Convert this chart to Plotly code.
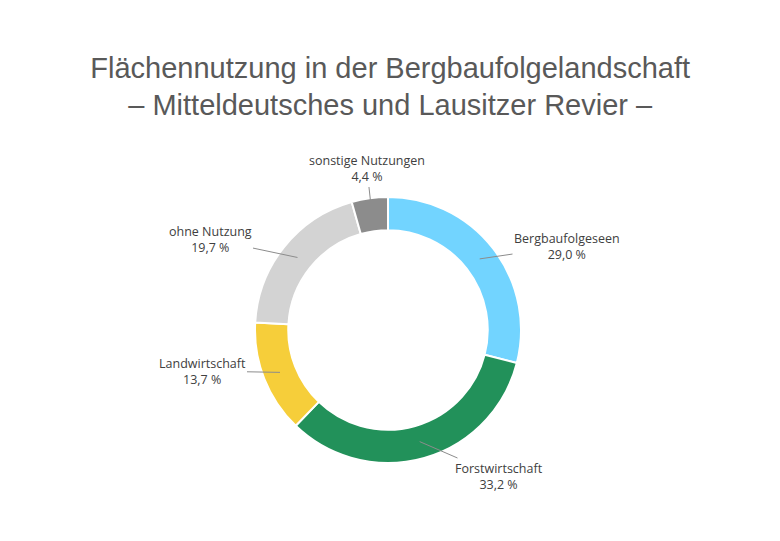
import math
import plotly.graph_objects as go

labels = ["Bergbaufolgeseen", "Forstwirtschaft", "Landwirtschaft", "ohne Nutzung", "sonstige Nutzungen"]
values = [29.0, 33.2, 13.7, 19.7, 4.4]
colors = ["#72D4FF", "#22915A", "#F6CE3A", "#D3D3D3", "#8C8C8C"]
label_pos = [(567, 246), (499, 476), (202, 371), (210, 239), (367, 169)]

W, H = 780, 541
cx, cy, R = 388, 330, 133
sx, sy = 8, 8  # rendering offset correction
fig = go.Figure(go.Pie(
    labels=labels, values=values, sort=False, direction="clockwise", rotation=0,
    hole=0.75, marker=dict(colors=colors, line=dict(color="white", width=2)),
    textinfo="none", hoverinfo="label+percent", showlegend=False,
    domain=dict(x=[(cx - sx - R) / W, (cx - sx + R) / W],
                y=[1 - (cy - sy + R) / H, 1 - (cy - sy - R) / H]),
))

total = sum(values)
cum = 0
ann = []
for lab, v, (lx, ly) in zip(labels, values, label_pos):
    mid = (cum + v / 2) / total * 2 * math.pi
    cum += v
    r = 116
    px, py = cx + r * math.sin(mid), cy - r * math.cos(mid)
    ann.append(dict(x=(px - sx) / W, y=1 - (py - sy) / H, xref="paper", yref="paper",
                    ax=lx - px, ay=ly - py, axref="pixel", ayref="pixel",
                    text=f"{lab}<br>{v:.1f} %".replace(".", ","), showarrow=True,
                    arrowhead=0, arrowwidth=1, arrowcolor="#8C8C8C",
                    font=dict(family="Open Sans", size=12.5, color="#404040"),
                    bgcolor="white", align="center"))

fig.update_layout(
    width=W, height=H, margin=dict(l=0, r=0, t=0, b=0), paper_bgcolor="white",
    title=dict(text="Flächennutzung in der Bergbaufolgelandschaft<br>– Mitteldeutsches und Lausitzer Revier –",
               x=0.49, y=0.871, xanchor="center", yanchor="middle",
               font=dict(family="Liberation Sans", size=29, color="#595959")),
    annotations=ann,
)
fig.write_html("out.html")
